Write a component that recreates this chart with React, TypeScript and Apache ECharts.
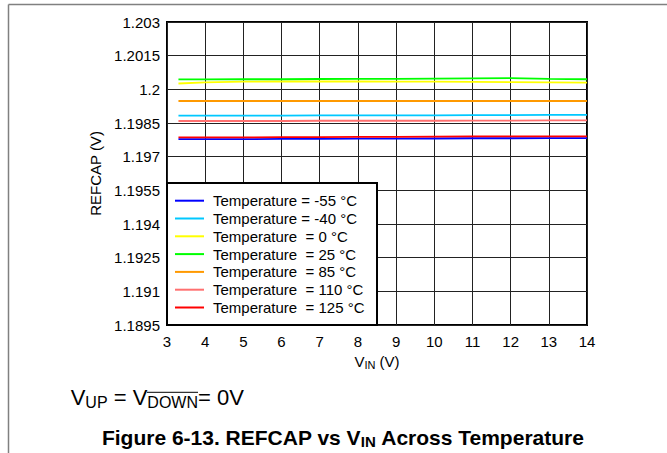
import React, { useEffect, useRef } from "react";
import * as echarts from "echarts";

const xValues = [3.3, 4, 5, 6, 7, 8, 9, 10, 11, 12, 13, 14];
const xTicks = [3, 4, 5, 6, 7, 8, 9, 10, 11, 12, 13, 14];
const yTicks = [1.1895, 1.191, 1.1925, 1.194, 1.1955, 1.197, 1.1985, 1.2, 1.2015, 1.203];

const seriesNames = [
  "Temperature = -55 °C",
  "Temperature = -40 °C",
  "Temperature  = 0 °C",
  "Temperature  = 25 °C",
  "Temperature  = 85 °C",
  "Temperature  = 110 °C",
  "Temperature  = 125 °C",
];
const seriesColors = ["#0000ff", "#00c8ff", "#ffff00", "#00ff00", "#ff9900", "#ff7070", "#ff0000"];

const tMinus55 = [1.19778, 1.19778, 1.19778, 1.19779, 1.19779, 1.1978, 1.1978, 1.19781, 1.19782, 1.19782, 1.19783, 1.19783];
const tMinus40 = [1.19883, 1.19883, 1.19883, 1.19883, 1.19884, 1.19884, 1.19884, 1.19884, 1.19885, 1.19885, 1.19886, 1.19886];
const t0 = [1.20026, 1.20031, 1.20034, 1.20035, 1.20035, 1.20035, 1.20034, 1.20034, 1.20033, 1.20032, 1.20031, 1.2003];
const t25 = [1.20044, 1.20044, 1.20045, 1.20045, 1.20046, 1.20047, 1.20047, 1.20048, 1.20049, 1.2005, 1.20047, 1.20045];
const t85 = [1.19948, 1.19948, 1.19948, 1.19948, 1.19948, 1.19948, 1.19948, 1.19948, 1.19948, 1.19948, 1.19948, 1.19948];
const t110 = [1.19859, 1.19859, 1.19859, 1.19859, 1.1986, 1.1986, 1.1986, 1.1986, 1.19861, 1.19861, 1.19862, 1.19862];
const t125 = [1.19786, 1.19786, 1.19786, 1.19787, 1.19787, 1.19788, 1.19788, 1.19789, 1.1979, 1.1979, 1.1979, 1.1979];

const seriesValues = [tMinus55, tMinus40, t0, t25, t85, t110, t125];

const FONT = "'Liberation Sans', Arial, sans-serif";

export default function App() {
  const ref = useRef<HTMLDivElement>(null);
  useEffect(() => {
    if (!ref.current) return;
    const chart = echarts.init(ref.current, null, { renderer: "svg" });
    const option = {
      animation: false,
      backgroundColor: "#ffffff",
      textStyle: { fontFamily: FONT },
      grid: {
        left: 167,
        top: 22,
        width: 420,
        height: 303,
        show: true,
        borderColor: "#000",
        borderWidth: 2,
        backgroundColor: "#fff",
        containLabel: false,
      },
      legend: {
        orient: "vertical",
        left: 175,
        top: 191.8,
        padding: 0,
        itemGap: 0,
        itemWidth: 29,
        itemHeight: 2,
        icon: "rect",
        data: seriesNames,
        textStyle: {
          fontSize: 15,
          lineHeight: 17.8,
          color: "#000",
          fontFamily: FONT,
          padding: [0, 0, 0, 4],
        },
      },
      xAxis: {
        type: "value",
        min: xTicks[0],
        max: xTicks[xTicks.length - 1],
        interval: 1,
        name: "{a|V}{b|IN}{a| (V)}",
        nameLocation: "middle",
        nameGap: 26,
        nameTextStyle: {
          rich: {
            a: { fontSize: 15, color: "#000", fontFamily: FONT, lineHeight: 18 },
            b: { fontSize: 11, color: "#000", fontFamily: FONT, lineHeight: 12, verticalAlign: "bottom" },
          },
        },
        axisLine: { show: false },
        axisTick: { show: false },
        axisLabel: { fontSize: 15, color: "#000", margin: 9, fontFamily: FONT },
        splitLine: { show: true, lineStyle: { color: "#222", width: 1 } },
      },
      yAxis: {
        type: "value",
        min: yTicks[0],
        max: yTicks[yTicks.length - 1],
        interval: 0.0015,
        name: "REFCAP (V)",
        nameLocation: "middle",
        nameGap: 64,
        nameTextStyle: { fontSize: 15, color: "#000", fontFamily: FONT },
        axisLine: { show: false },
        axisTick: { show: false },
        axisLabel: {
          fontSize: 15,
          color: "#000",
          margin: 7,
          fontFamily: FONT,
          formatter: (v: number) => String(+v.toFixed(4)),
        },
        splitLine: { show: true, lineStyle: { color: "#222", width: 1 } },
      },
      series: seriesNames.map((name, i) => ({
        name,
        type: "line",
        showSymbol: false,
        symbol: "none",
        color: seriesColors[i],
        lineStyle: { width: 1.8, color: seriesColors[i] },
        data: xValues.map((x, j) => [x, seriesValues[i][j]]),
        z: 2 + (i === 0 ? 0 : 1),
      })),
      graphic: [
        {
          type: "line",
          z: 10,
          shape: { x1: 8.5, y1: 4.5, x2: 667, y2: 4.5 },
          style: { stroke: "#808080", lineWidth: 1.5 },
        },
        {
          type: "line",
          z: 10,
          shape: { x1: 8.5, y1: 4.5, x2: 8.5, y2: 453 },
          style: { stroke: "#808080", lineWidth: 1.5 },
        },
        {
          type: "rect",
          z: 3,
          shape: { x: 167, y: 183, width: 210, height: 142 },
          style: { fill: "#fff", stroke: "#000", lineWidth: 2 },
        },
        {
          type: "text",
          z: 10,
          x: 70.7,
          y: 397,
          style: {
            text: "{m|V}{s|UP}{m| = V}{s|DOWN}{m|= 0V}",
            verticalAlign: "middle",
            rich: {
              m: { fontSize: 22, fontFamily: FONT, fill: "#000", lineHeight: 26 },
              s: { fontSize: 16, fontFamily: FONT, fill: "#000", lineHeight: 15, verticalAlign: "bottom" },
            },
          },
        },
        {
          type: "line",
          z: 10,
          shape: { x1: 147, y1: 392.3, x2: 198, y2: 392.3 },
          style: { stroke: "#000", lineWidth: 1 },
        },
        {
          type: "text",
          z: 10,
          x: 343,
          y: 437,
          style: {
            text: "{b|Figure 6-13. REFCAP vs V}{s|IN}{b| Across Temperature}",
            align: "center",
            verticalAlign: "middle",
            rich: {
              b: { fontSize: 21, fontWeight: "bold", fontFamily: FONT, fill: "#000", lineHeight: 24 },
              s: { fontSize: 15, fontWeight: "bold", fontFamily: FONT, fill: "#000", lineHeight: 14, verticalAlign: "bottom" },
            },
          },
        },
      ],
    };
    chart.setOption(option as any);
    return () => chart.dispose();
  }, []);
  return (
    <div
      ref={ref}
      style={{ position: "absolute", left: 0, top: 0, width: 667, height: 453 }}
    />
  );
}
